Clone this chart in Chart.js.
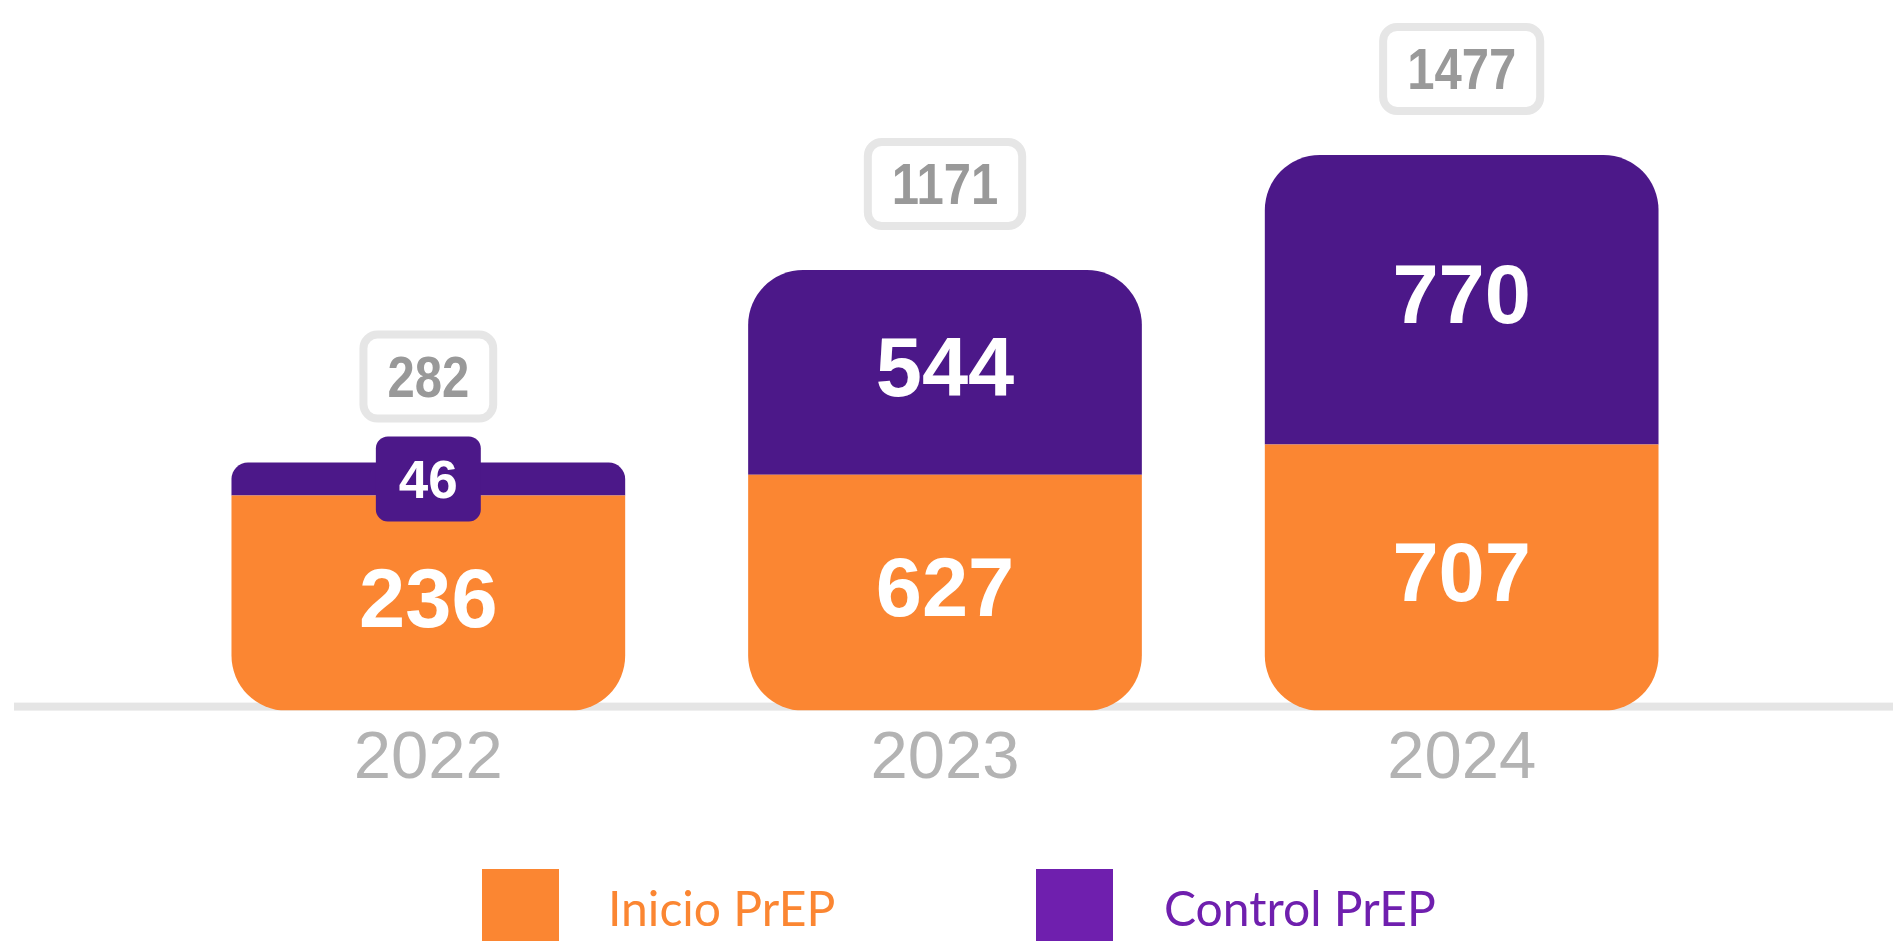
<!DOCTYPE html>
<html lang="es">
<head>
<meta charset="utf-8">
<title>Inicio y Control PrEP</title>
<script src="https://cdn.jsdelivr.net/npm/chart.js@4.4.1/dist/chart.umd.min.js"></script>
<style>
  html, body { margin: 0; padding: 0; background: #fff; }
  .wrap { position: relative; width: 1893px; height: 941px; overflow: hidden; }
  .legend-box { position: absolute; top: 869px; width: 77px; height: 77px; }
  .legend-text {
    position: absolute; top: 884px; margin: 0;
    font-family: Lato, 'Open Sans', sans-serif; font-weight: 400;
    font-size: 48px; line-height: 1; white-space: nowrap;
  }
</style>
</head>
<body>
<div class="wrap">
  <canvas id="prepChart"></canvas>
  <div class="legend-box" style="left:482px;background:#fb8632"></div>
  <p class="legend-text" style="left:608px;color:#fb8632">Inicio PrEP</p>
  <div class="legend-box" style="left:1036px;background:#6f1fae"></div>
  <p class="legend-text" style="left:1164px;color:#6f1fae">Control PrEP</p>
</div>
<script>
// ─── Data ─────────────────────────────────────────────────────────
const YEARS   = ['2022', '2023', '2024'];
const INICIO  = [236, 627, 707];
const CONTROL = [46, 544, 770];

const ORANGE = '#fb8632';
const PURPLE = '#4c1889';
const NUM_FONT = '"Liberation Sans", Arial, sans-serif';

const totals = YEARS.map((_, i) => INICIO[i] + CONTROL[i]);

// grey floor line under the bars
const floorLine = {
  id: 'floorLine',
  beforeDatasetsDraw(chart) {
    const { ctx, scales: { y } } = chart;
    const y0 = y.getPixelForValue(0);
    ctx.save();
    ctx.fillStyle = '#e5e5e5';
    ctx.fillRect(14, y0 - 8, chart.width - 14, 8);
    ctx.restore();
  }
};

// values inside the segments + total boxes on top
const valueLabels = {
  id: 'valueLabels',
  afterDatasetsDraw(chart) {
    const { ctx } = chart;
    ctx.save();
    ctx.textAlign = 'center';
    ctx.textBaseline = 'alphabetic';

    chart.data.datasets.forEach((ds, di) => {
      const meta = chart.getDatasetMeta(di);
      meta.data.forEach((bar, i) => {
        const { x, y, base } = bar.getProps(['x', 'y', 'base'], true);
        const h = Math.abs(base - y);
        const cy = (y + base) / 2;
        const txt = String(ds.data[i]);

        if (h >= 90) {
          ctx.font = 'bold 83px ' + NUM_FONT;
          ctx.fillStyle = '#fff';
          ctx.fillText(txt, x, cy + 83 * 0.716 / 2 - 6);
        } else {
          // segment too thin: put the number on a tab
          ctx.font = 'bold 53px ' + NUM_FONT;
          const tw = ctx.measureText(txt).width;
          const w = tw + 46, th = 85;
          ctx.fillStyle = ds.backgroundColor;
          ctx.beginPath();
          ctx.roundRect(x - w / 2, cy - th / 2, w, th, 12);
          ctx.fill();
          ctx.fillStyle = '#fff';
          ctx.fillText(txt, x, cy + 53 * 0.716 / 2);
        }
      });
    });

    // totals
    const topMeta = chart.getDatasetMeta(chart.data.datasets.length - 1);
    topMeta.data.forEach((bar, i) => {
      const { x, y } = bar.getProps(['x', 'y'], true);
      const txt = String(totals[i]);
      const sx = 0.86;
      ctx.font = 'bold 57px ' + NUM_FONT;
      const tw = ctx.measureText(txt).width * sx;
      const bw = tw + 56, bh = 92;
      const bx = x - bw / 2, by = y - 40 - bh;

      ctx.lineWidth = 8;
      ctx.strokeStyle = '#e6e6e6';
      ctx.fillStyle = '#fff';
      ctx.beginPath();
      ctx.roundRect(bx + 4, by + 4, bw - 8, bh - 8, 14);
      ctx.fill();
      ctx.stroke();

      ctx.save();
      ctx.translate(x, by + bh / 2 + 57 * 0.716 / 2);
      ctx.scale(sx, 1);
      ctx.fillStyle = '#999999';
      ctx.fillText(txt, 0, 0);
      ctx.restore();
    });
    ctx.restore();
  }
};

const ctx = document.getElementById('prepChart').getContext('2d');
ctx.canvas.width = 1893;
ctx.canvas.height = 941;

new Chart(ctx, {
  type: 'bar',
  data: {
    labels: YEARS,
    datasets: [
      {
        label: 'Inicio PrEP',
        data: INICIO,
        backgroundColor: ORANGE,
        borderWidth: 0,
        borderSkipped: false,
        borderRadius: { topLeft: 0, topRight: 0, bottomLeft: 55, bottomRight: 55 },
        minBarLength: 215,
        barPercentage: 0.762,
        categoryPercentage: 1
      },
      {
        label: 'Control PrEP',
        data: CONTROL,
        backgroundColor: PURPLE,
        borderWidth: 0,
        borderSkipped: false,
        borderRadius: { topLeft: 55, topRight: 55, bottomLeft: 0, bottomRight: 0 },
        minBarLength: 33,
        barPercentage: 0.762,
        categoryPercentage: 1
      }
    ]
  },
  options: {
    responsive: false,
    animation: false,
    layout: { padding: { left: 170, right: 173, top: 135, bottom: 132 } },
    plugins: {
      legend: { display: false },
      tooltip: { enabled: false }
    },
    scales: {
      x: {
        stacked: true,
        grid: { display: false, drawTicks: false },
        border: { display: false },
        ticks: {
          color: '#b3b3b3',
          padding: 9,
          font: { family: 'Liberation Sans', size: 67 }
        }
      },
      y: { stacked: true, display: false, min: 0, max: 1530 }
    }
  },
  plugins: [floorLine, valueLabels]
});
</script>
</body>
</html>
